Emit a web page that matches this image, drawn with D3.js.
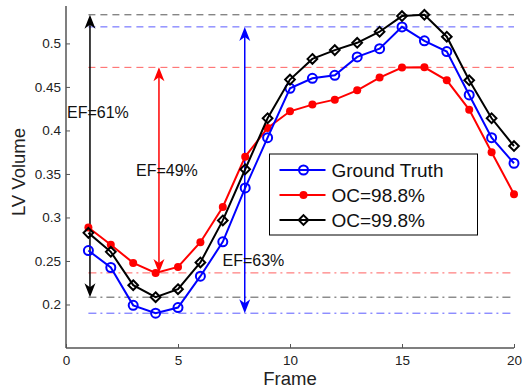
<!DOCTYPE html>
<html>
<head>
<meta charset="utf-8">
<script src="https://cdn.jsdelivr.net/npm/d3@7"></script>
<style>
  body { margin: 0; background: #fff; }
  svg text { font-family: 'Liberation Sans', Arial, sans-serif; }
</style>
</head>
<body>
<div id="chart"></div>
<script>
// frames 1..20
const frames = d3.range(1, 21);
const groundTruth = [0.262, 0.2425, 0.199, 0.190, 0.1965, 0.2325, 0.272, 0.334, 0.3917, 0.4484,
  0.4599, 0.4633, 0.4845, 0.494, 0.519, 0.503, 0.4906, 0.4408, 0.3917, 0.3623];
const oc988 = [0.2885, 0.2686, 0.2478, 0.2363, 0.2432, 0.2716, 0.312, 0.3699, 0.4029, 0.422,
  0.4297, 0.4354, 0.4461, 0.4607, 0.4722, 0.4725, 0.4576, 0.4239, 0.375, 0.3267];
const oc998 = [0.2823, 0.2605, 0.2222, 0.2084, 0.2176, 0.2483, 0.2966, 0.3554, 0.414, 0.4584,
  0.4822, 0.4923, 0.5007, 0.5134, 0.5314, 0.5329, 0.5077, 0.4576, 0.414, 0.3821];

const seriesNames = ['Ground Truth', 'OC=98.8%', 'OC=99.8%'];
const efLabels = ['EF=63%', 'EF=49%', 'EF=61%'];
const arrowFrames = [7.98, 4.15, 1.07];   // where the EF arrows stand
const xTicks = [0, 5, 10, 15, 20];
const yTicks = [0.2, 0.25, 0.3, 0.35, 0.4, 0.45, 0.5];

const width = 523, height = 391;
const margin = { top: 6, right: 9, bottom: 43, left: 66 };

const svg = d3.select('#chart').append('svg')
  .attr('width', width)
  .attr('height', height);

const x = d3.scaleLinear().domain([0, 20]).range([margin.left, width - margin.right]);
const y = d3.scaleLinear().domain([0.15, 0.543]).range([height - margin.bottom, margin.top]);

const series = [
  { name: seriesNames[0], values: groundTruth, color: '#0000ff', light: '#5b5bff', marker: 'circle' },
  { name: seriesNames[1], values: oc988, color: '#ff0000', light: '#ff6060', marker: 'dot' },
  { name: seriesNames[2], values: oc998, color: '#000000', light: '#555555', marker: 'diamond' }
];

/* ---------- reference lines at max (dashed) and min (dash-dot) ---------- */
const refG = svg.append('g');
series.forEach(s => {
  const hi = d3.max(s.values), lo = d3.min(s.values);
  refG.append('line')
    .attr('x1', x(frames[0])).attr('x2', x(20))
    .attr('y1', y(hi)).attr('y2', y(hi))
    .attr('stroke', s.light).attr('stroke-width', 1)
    .attr('stroke-dasharray', '7,5');
  refG.append('line')
    .attr('x1', x(frames[0])).attr('x2', x(20))
    .attr('y1', y(lo)).attr('y2', y(lo))
    .attr('stroke', s.light).attr('stroke-width', 1)
    .attr('stroke-dasharray', '8,4,2,4');
});

/* ---------- axes ---------- */
const axisColor = '#555';
const xAxis = svg.append('g')
  .attr('transform', 'translate(0,' + y(0.15) + ')')
  .call(d3.axisBottom(x).tickValues(xTicks).tickSizeInner(-4).tickSizeOuter(0).tickPadding(7));
const yAxis = svg.append('g')
  .attr('transform', 'translate(' + x(0) + ',0)')
  .call(d3.axisLeft(y).tickValues(yTicks).tickSizeInner(-4).tickSizeOuter(0).tickPadding(5)
    .tickFormat(d => String(+d.toFixed(2))));
[xAxis, yAxis].forEach(a => {
  a.select('.domain').attr('stroke', axisColor).attr('stroke-width', 1.5);
  a.selectAll('.tick line').attr('stroke', axisColor).attr('stroke-width', 1);
  a.selectAll('.tick text').attr('fill', '#222').style('font-size', '13.5px')
    .style('font-family', "'Liberation Sans', Arial, sans-serif");
});
yAxis.select('.domain').attr('d', 'M0,' + y(0.543) + 'V' + y(0.15));
xAxis.select('.domain').attr('d', 'M' + x(0) + ',0H' + x(20));

svg.append('text')
  .attr('x', x(10)).attr('y', 385)
  .attr('text-anchor', 'middle')
  .style('font-size', '18.5px').attr('fill', '#222')
  .text('Frame');
svg.append('text')
  .attr('transform', 'translate(25,' + 172 + ') rotate(-90)')
  .attr('text-anchor', 'middle')
  .style('font-size', '18.5px').attr('fill', '#222')
  .text('LV Volume');

/* ---------- EF arrows ---------- */
function arrowHead(g, px, py, dir, color) {
  // dir = -1 points up, 1 points down
  const L = 14, W = 5.5, N = 10;
  g.append('path')
    .attr('d', 'M' + px + ',' + py +
      'L' + (px - W) + ',' + (py - dir * L) +
      'L' + px + ',' + (py - dir * N) +
      'L' + (px + W) + ',' + (py - dir * L) + 'Z')
    .attr('fill', color);
}
const arrowG = svg.append('g');
series.forEach((s, i) => {
  const ax = x(arrowFrames[i]);
  const top = y(d3.max(s.values)), bot = y(d3.min(s.values));
  arrowG.append('line')
    .attr('x1', ax).attr('x2', ax)
    .attr('y1', top + 4).attr('y2', bot - 4)
    .attr('stroke', s.color).attr('stroke-width', 1.5);
  arrowHead(arrowG, ax, top, -1, s.color);
  arrowHead(arrowG, ax, bot, 1, s.color);
});

/* ---------- series ---------- */
const line = d3.line().x((d, i) => x(frames[i])).y(d => y(d));
function drawMarker(g, s, cx, cy) {
  if (s.marker === 'circle') {
    g.append('circle').attr('cx', cx).attr('cy', cy).attr('r', 4.5)
      .attr('fill', 'none').attr('stroke', s.color).attr('stroke-width', 2);
  } else if (s.marker === 'dot') {
    g.append('circle').attr('cx', cx).attr('cy', cy).attr('r', 4)
      .attr('fill', s.color);
  } else {
    g.append('path')
      .attr('d', d3.symbol().type(d3.symbolDiamond2).size(60)())
      .attr('transform', 'translate(' + cx + ',' + cy + ')')
      .attr('fill', 'none').attr('stroke', s.color).attr('stroke-width', 2);
  }
}
const seriesOrder = [1, 0, 2];
seriesOrder.forEach(k => {
  const s = series[k];
  const g = svg.append('g');
  g.append('path').datum(s.values)
    .attr('d', line)
    .attr('fill', 'none').attr('stroke', s.color).attr('stroke-width', 2);
  s.values.forEach((v, i) => drawMarker(g, s, x(frames[i]), y(v)));
});

/* ---------- EF labels ---------- */
const labelPos = [[222.5, 266], [136, 176], [67, 118]];
efLabels.forEach((t, i) => {
  svg.append('text')
    .attr('x', labelPos[i][0]).attr('y', labelPos[i][1])
    .style('font-size', '16px').attr('fill', '#111')
    .text(t);
});

/* ---------- legend ---------- */
const legend = svg.append('g').attr('transform', 'translate(269.5,154)');
legend.append('rect')
  .attr('width', 208).attr('height', 81)
  .attr('fill', '#fff').attr('stroke', '#000').attr('stroke-width', 1);
series.forEach((s, i) => {
  const ry = 16 + i * 25;
  const row = legend.append('g');
  row.append('line').attr('x1', 10).attr('x2', 56).attr('y1', ry).attr('y2', ry)
    .attr('stroke', s.color).attr('stroke-width', 2);
  drawMarker(row, s, 34, ry);
  row.append('text').attr('x', 62).attr('y', ry + 6.5)
    .style('font-size', '19px').attr('fill', '#111')
    .text(s.name);
});
</script>
</body>
</html>
